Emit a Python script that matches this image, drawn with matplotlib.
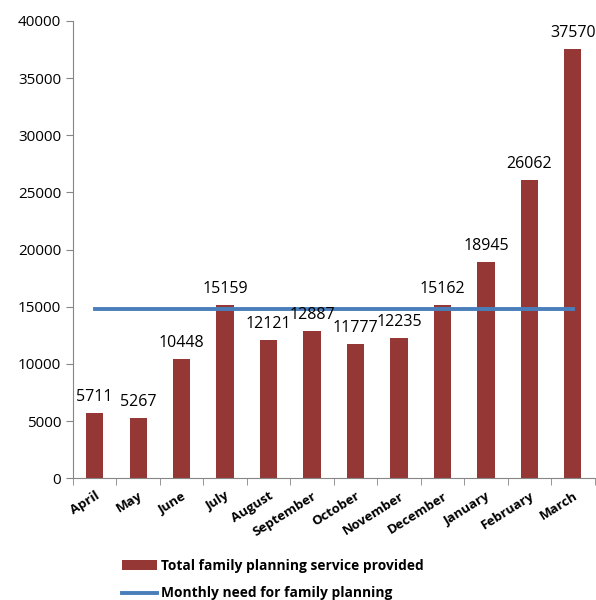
"""
Family planning services provided per month against the monthly need.
"""

import numpy as np
from matplotlib import pyplot as plt
from matplotlib.lines import Line2D
from matplotlib.patches import Patch

MONTHS = ["April", "May", "June", "July", "August", "September", "October",
          "November", "December", "January", "February", "March"]
SERVICES = [5711, 5267, 10448, 15159, 12121, 12887, 11777, 12235, 15162,
            18945, 26062, 37570]
MONTHLY_NEED = [14800] * len(MONTHS)

BAR_COLOR = "#953735"
LINE_COLOR = "#4a7ebb"
AXIS_COLOR = "#868686"

plt.rcParams['font.family'] = ['Open Sans', 'DejaVu Sans']

fig = plt.figure(figsize=(5.96, 6.0), dpi=100)
axis = fig.add_axes([0.1225, 0.203, 0.875, 0.762])

x = np.arange(len(MONTHS))
bars = axis.bar(x, SERVICES, width=0.4, color=BAR_COLOR, zorder=2)
axis.plot(x, MONTHLY_NEED, color=LINE_COLOR, linewidth=2.8, zorder=3)

for xi, val in zip(x, SERVICES):
    axis.text(xi, val + 700, str(val), ha="center", va="bottom", fontsize=11.5)

axis.set_xlim(-0.5, len(MONTHS) - 0.5)
axis.set_ylim(0, 40000)
axis.set_yticks(np.arange(0, 40001, 5000))
axis.tick_params(axis="y", labelsize=11, color=AXIS_COLOR, length=5)

# month labels sit on major ticks, tick marks go between categories
axis.set_xticks(x)
axis.set_xticklabels(MONTHS, rotation=32, ha="right", rotation_mode="anchor",
                     fontsize=9.5, fontweight="bold")
axis.tick_params(axis="x", which="major", length=0, pad=8)
axis.set_xticks(np.arange(-0.5, len(MONTHS), 1), minor=True)
axis.tick_params(axis="x", which="minor", length=5, color=AXIS_COLOR)

for side in ["top", "right"]:
    axis.spines[side].set_visible(False)
for side in ["left", "bottom"]:
    axis.spines[side].set_color(AXIS_COLOR)

handles = [Patch(facecolor=BAR_COLOR),
           Line2D([0], [0], color=LINE_COLOR, linewidth=2.8)]
labels = ["Total family planning service provided",
          "Monthly need for family planning"]
fig.legend(handles, labels, loc="upper left", bbox_to_anchor=(0.195, 0.078),
           frameon=False, prop={"size": 9.9, "weight": "bold"},
           handlelength=2.6, handletextpad=0.25, labelspacing=1.0,
           borderaxespad=0)

fig.savefig("out.png", dpi=100)
